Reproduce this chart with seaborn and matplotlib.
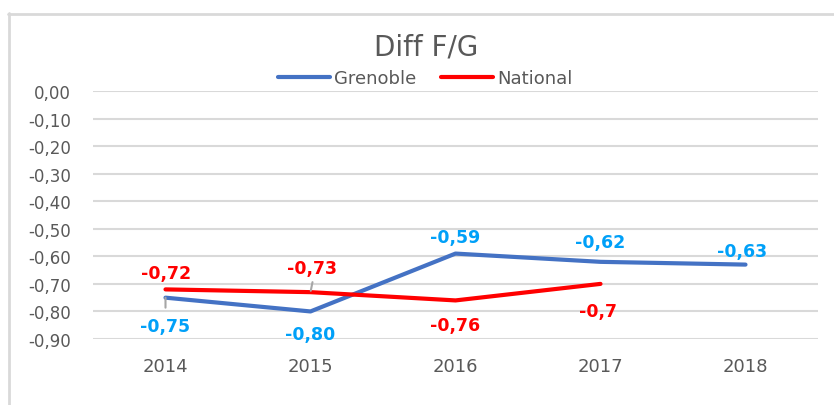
import pandas as pd
import matplotlib.pyplot as plt
import seaborn as sns
from matplotlib.lines import Line2D

years = ['2014', '2015', '2016', '2017', '2018']
grenoble = [-0.75, -0.80, -0.59, -0.62, -0.63]
national = [-0.72, -0.73, -0.76, -0.70]
grenoble_labels = ['-0,75', '-0,80', '-0,59', '-0,62', '-0,63']
national_labels = ['-0,72', '-0,73', '-0,76', '-0,7']
y_ticks = [0.0, -0.1, -0.2, -0.3, -0.4, -0.5, -0.6, -0.7, -0.8, -0.9]

# label offsets in pixels (dx, dy) relative to point
gren_off = [(0, -28), (0, -23), (0, 17), (0, 20), (-3, 14)]
nat_off = [(1, 16), (2, 24), (0, -25), (-3, -27)]

df = pd.concat([
    pd.DataFrame({'year': years, 'value': grenoble, 'serie': 'Grenoble'}),
    pd.DataFrame({'year': years[:len(national)], 'value': national, 'serie': 'National'}),
])

sns.set_style('white')
plt.rcParams['font.family'] = ['DejaVu Sans']

fig = plt.figure(figsize=(8.34, 4.06), dpi=100)
ax = fig.add_axes([93 / 834, 1 - 340 / 406, 725 / 834, 248 / 406])

colors = {'Grenoble': '#4472C4', 'National': '#FF0000'}
sns.lineplot(data=df, x='year', y='value', hue='serie', palette=colors,
             linewidth=3, sort=False, ax=ax)

ax.set_xlim(-0.5, 4.5)
ax.set_ylim(-0.9, 0.0)
ax.set_yticks(y_ticks)
ax.set_yticklabels([f'{v:.2f}'.replace('.', ',') for v in y_ticks])
ax.yaxis.grid(True, color='#d9d9d9', linewidth=1.5)
ax.set_axisbelow(True)
for s in ax.spines.values():
    s.set_visible(False)
ax.tick_params(axis='y', length=0, pad=16, labelsize=12, labelcolor='#595959')
ax.tick_params(axis='x', length=0, pad=13, labelsize=13, labelcolor='#595959')
ax.set_xlabel('')
ax.set_ylabel('')

for i, (v, lab) in enumerate(zip(grenoble, grenoble_labels)):
    dx, dy = gren_off[i]
    ax.annotate(lab, (i, v), xytext=(dx, dy), textcoords='offset pixels',
                ha='center', va='center', fontsize=12.5, fontweight='bold',
                color='#00A0F8')
for i, (v, lab) in enumerate(zip(national, national_labels)):
    dx, dy = nat_off[i]
    ax.annotate(lab, (i, v), xytext=(dx, dy), textcoords='offset pixels',
                ha='center', va='center', fontsize=12.5, fontweight='bold',
                color='#FF0000')

# leader lines
ax.annotate('', (0, grenoble[0]), xytext=(0, -10), textcoords='offset pixels',
            arrowprops=dict(arrowstyle='-', color='#a6a6a6', lw=1.5, shrinkA=0, shrinkB=0))
ax.annotate('', (1, national[1]), xytext=(2, 10), textcoords='offset pixels',
            arrowprops=dict(arrowstyle='-', color='#a6a6a6', lw=1.5, shrinkA=0, shrinkB=1))

handles = [Line2D([], [], color=colors[k], linewidth=3) for k in colors]
ax.legend(handles, list(colors), loc='center', ncol=2,
          bbox_to_anchor=(425 / 834, 1 - 79 / 406), bbox_transform=fig.transFigure,
          frameon=False, fontsize=13, handlelength=2.9, handletextpad=0.2,
          columnspacing=1.4, labelcolor='#595959')

fig.text(426 / 834, 1 - 48 / 406, 'Diff F/G', ha='center', va='center',
         fontsize=20, color='#595959')

# outer chart frame (top and left edges)
fig.add_artist(Line2D([8 / 834, 1], [1 - 14.5 / 406] * 2, color='#d9d9d9', lw=2,
                      transform=fig.transFigure))
fig.add_artist(Line2D([8.5 / 834] * 2, [1 - 14 / 406, 0], color='#d9d9d9', lw=2,
                      transform=fig.transFigure))

fig.savefig('out.png', dpi=100)
